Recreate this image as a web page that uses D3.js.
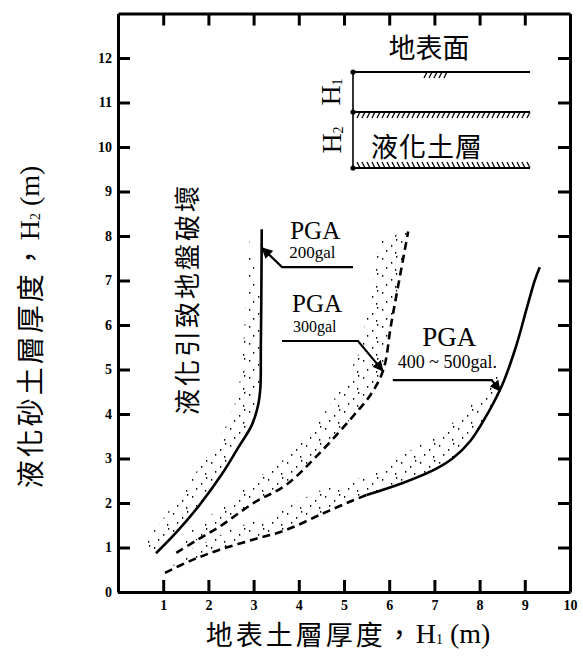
<!DOCTYPE html>
<html><head><meta charset="utf-8">
<script src="https://cdn.jsdelivr.net/npm/d3@7"></script>
<style>body{margin:0;background:#fff} svg{display:block}</style>
</head><body>
<svg id="c" width="583" height="670"></svg>
<script>
// ---- data ----
const xTickValues = [1,2,3,4,5,6,7,8,9,10];
const yTickValues = [0,1,2,3,4,5,6,7,8,9,10,11,12];
const curve200 = [[0.84,0.87],[1.3,1.35],[1.8,1.95],[2.3,2.65],[2.67,3.26],[2.96,3.75],[3.1,4.2],[3.15,4.6],[3.16,5.5],[3.17,6.5],[3.18,8.15]];
const curve300 = [[1.29,0.88],[1.8,1.2],[2.22,1.45],[3.0,2.0],[3.71,2.4],[4.44,3.1],[5.2,3.95],[5.6,4.45],[5.87,4.99],[6.04,6.0],[6.22,7.0],[6.42,8.1]];
const curve400Dashed = [[1.04,0.43],[1.6,0.7],[2.22,0.94],[3.0,1.18],[3.71,1.39],[4.5,1.75],[5.18,2.05],[5.5,2.18]];
const curve400Solid = [[5.5,2.18],[6.3,2.45],[7.0,2.75],[7.4,3.0],[7.8,3.4],[8.2,4.05],[8.5,4.65],[8.8,5.5],[9.05,6.4],[9.22,7.0],[9.33,7.3]];
const band200Outer = [[0.55,1.05],[1.0,1.65],[1.5,2.35],[2.0,3.1],[2.4,3.75],[2.65,4.4],[2.75,5.2],[2.8,6.0],[2.85,7.0],[2.9,7.9]];
const band300Outer = [[1.5,1.3],[2.2,1.85],[3.0,2.5],[3.7,3.0],[4.4,3.8],[4.9,4.5],[5.3,5.3],[5.5,6.2],[5.65,7.0],[5.8,8.0]];
const band400Outer = [[1.6,0.95],[2.5,1.4],[3.5,1.8],[4.5,2.3],[5.5,2.6],[6.5,3.2],[7.3,3.7],[7.9,4.3],[8.4,4.9]];
const leader200 = [[3.19,7.73],[3.63,7.30],[5.2,7.30]];
const leader300 = [[5.86,4.97],[5.31,5.64],[3.63,5.64]];
const leader400 = [[8.45,4.52],[8.27,4.76],[6.08,4.76]];
const pgaLabels = [
  {main:"PGA", sub:"200gal", x:3.81, y:7.93, sx:3.79, sy:7.51, mainSize:25, subSize:17},
  {main:"PGA", sub:"300gal", x:3.85, y:6.30, sx:3.87, sy:5.84, mainSize:25, subSize:16},
  {main:"PGA", sub:"400 ~ 500gal.", x:6.73, y:5.53, sx:6.19, sy:5.03, mainSize:27, subSize:18}
];

// ---- layout ----
const svg = d3.select("#c");
const L = 118, R = 570, B = 592, T = 13.5;
const x = d3.scaleLinear().domain([0,10]).range([L,R]);
const y = d3.scaleLinear().domain([0,13]).range([B,T]);
const CJK = "'Noto Sans CJK TC','Noto Sans CJK SC',sans-serif";
const SERIF = "'Liberation Serif','DejaVu Serif',serif";

// stipple pattern
const defs = svg.append("defs");
const pat = defs.append("pattern").attr("id","stip").attr("patternUnits","userSpaceOnUse")
  .attr("width",19).attr("height",17);
[[2,3],[11,7],[6,12],[15,14],[16,1]].forEach(p=>{
  pat.append("rect").attr("x",p[0]).attr("y",p[1]).attr("width",1.3).attr("height",1.7).attr("fill","#000");
});
defs.append("marker").attr("id","arr").attr("viewBox","0 0 10 10").attr("refX",9).attr("refY",5)
  .attr("markerWidth",5).attr("markerHeight",5).attr("orient","auto")
  .append("path").attr("d","M0,0L10,5L0,10z").attr("fill","#000");

const line = d3.line().x(d=>x(d[0])).y(d=>y(d[1])).curve(d3.curveCatmullRom.alpha(0.5));
const poly = d3.line().x(d=>x(d[0])).y(d=>y(d[1])).curve(d3.curveLinearClosed);

// bands
const lower400 = curve400Dashed.concat(curve400Solid.slice(1)).filter(d=>d[0]<=8.5);
[[band200Outer, curve200.filter(d=>d[1]<=7.9)],
 [band300Outer, curve300],
 [band400Outer, lower400]].forEach(([outer, inner])=>{
  svg.append("path").attr("d", poly(outer.concat(inner.slice().reverse())))
    .attr("fill","url(#stip)").attr("stroke","none");
});

// axes
function styleAxis(g){
  g.select(".domain").attr("stroke","#000").attr("stroke-width",3);
  g.selectAll(".tick line").attr("stroke","#000").attr("stroke-width",3);
  g.selectAll(".tick text").attr("font-family",SERIF).attr("font-weight","bold").attr("font-size",14).attr("fill","#000");
}
svg.append("g").attr("transform",`translate(${L},0)`)
  .call(d3.axisLeft(y).tickValues(yTickValues).tickSize(-12).tickSizeOuter(0).tickPadding(6).tickFormat(d3.format("d")))
  .call(styleAxis);
svg.append("g").attr("transform",`translate(0,${B})`)
  .call(d3.axisBottom(x).tickValues(xTickValues).tickSize(-12).tickSizeOuter(0).tickPadding(8).tickFormat(d3.format("d")))
  .call(styleAxis);
svg.append("g").attr("transform",`translate(0,${T})`)
  .call(d3.axisTop(x).tickValues(xTickValues.slice(0,9)).tickSize(-12).tickSizeOuter(0).tickFormat(""))
  .call(styleAxis);
svg.append("g").attr("transform",`translate(${R},0)`)
  .call(d3.axisRight(y).tickValues(yTickValues.slice(1)).tickSize(-12).tickSizeOuter(0).tickFormat(""))
  .call(styleAxis);

// curves
svg.append("path").attr("d",line(curve200)).attr("fill","none").attr("stroke","#000").attr("stroke-width",2.6);
svg.append("path").attr("d",line(curve300)).attr("fill","none").attr("stroke","#000").attr("stroke-width",2.6).attr("stroke-dasharray","8,5");
svg.append("path").attr("d",line(curve400Dashed)).attr("fill","none").attr("stroke","#000").attr("stroke-width",2.6).attr("stroke-dasharray","8,5");
svg.append("path").attr("d",line(curve400Solid)).attr("fill","none").attr("stroke","#000").attr("stroke-width",2.6);

// leaders (first point lies on the curve, arrowhead there)
const lin = d3.line().x(d=>x(d[0])).y(d=>y(d[1]));
[leader200, leader300, leader400].forEach(ld=>{
  svg.append("path").attr("d",lin(ld.slice().reverse())).attr("fill","none").attr("stroke","#000")
    .attr("stroke-width",2.2).attr("marker-end","url(#arr)");
});
pgaLabels.forEach(p=>{
  svg.append("text").attr("x",x(p.x)).attr("y",y(p.y)).attr("font-family",SERIF).attr("font-size",p.mainSize).text(p.main);
  svg.append("text").attr("x",x(p.sx)).attr("y",y(p.sy)).attr("font-family",SERIF).attr("font-size",p.subSize).text(p.sub);
});

// vertical annotation
svg.append("text").attr("transform","translate(185,299) rotate(-90)").attr("text-anchor","middle")
  .attr("dominant-baseline","central").attr("font-family",CJK).attr("font-size",26).attr("letter-spacing",3)
  .text("液化引致地盤破壞");

// inset diagram
const ins = svg.append("g");
ins.append("text").attr("x",429).attr("y",46).attr("text-anchor","middle").attr("dominant-baseline","central")
  .attr("font-family",CJK).attr("font-size",27).text("地表面");
[72,112,168].forEach(yy=>{
  ins.append("line").attr("x1",353).attr("x2",530).attr("y1",yy).attr("y2",yy).attr("stroke","#000").attr("stroke-width",2.2);
});
ins.append("line").attr("x1",353).attr("x2",353).attr("y1",72).attr("y2",168).attr("stroke","#000").attr("stroke-width",1.6);
[72,112,168].forEach(yy=>ins.append("circle").attr("cx",353).attr("cy",yy).attr("r",2.6).attr("fill","#000"));
const hatch = (x0,x1,y0,dir)=>{ for(let xx=x0; xx<=x1; xx+=5){ ins.append("line").attr("x1",xx).attr("x2",xx+3).attr("y1",y0+dir*6).attr("y2",y0).attr("stroke","#000").attr("stroke-width",1.2);} };
hatch(424,448,72,1);
hatch(357,527,112,1);
hatch(357,527,168,-1);
ins.append("text").attr("x",427).attr("y",145).attr("text-anchor","middle").attr("dominant-baseline","central")
  .attr("font-family",CJK).attr("font-size",27).attr("letter-spacing",1).text("液化土層");
[["1",330,92],["2",331,140]].forEach(([s,cx,cy])=>{
  const t = ins.append("text").attr("transform",`translate(${cx},${cy}) rotate(-90)`).attr("text-anchor","middle")
    .attr("dominant-baseline","central").attr("font-family",SERIF).attr("font-size",28);
  t.append("tspan").text("H");
  t.append("tspan").attr("font-size",14).attr("dy",7).text(s);
});

// axis titles
const xt = svg.append("text").attr("x",348).attr("y",633).attr("text-anchor","middle").attr("dominant-baseline","central");
xt.append("tspan").attr("font-family",CJK).attr("font-size",27).attr("letter-spacing",3).text("地表土層厚度，");
xt.append("tspan").attr("font-family",SERIF).attr("font-size",28).text("H");
xt.append("tspan").attr("font-family",SERIF).attr("font-size",14).attr("dy",6).text("1");
xt.append("tspan").attr("font-family",SERIF).attr("font-size",28).attr("dy",-6).text(" (m)");

const yt = svg.append("text").attr("transform","translate(29,327) rotate(-90)").attr("text-anchor","middle").attr("dominant-baseline","central");
yt.append("tspan").attr("font-family",CJK).attr("font-size",28).attr("letter-spacing",3).text("液化砂土層厚度，");
yt.append("tspan").attr("font-family",SERIF).attr("font-size",28).text("H");
yt.append("tspan").attr("font-family",SERIF).attr("font-size",14).attr("dy",6).text("2");
yt.append("tspan").attr("font-family",SERIF).attr("font-size",28).attr("dy",-6).text(" (m)");
</script>
</body></html>
